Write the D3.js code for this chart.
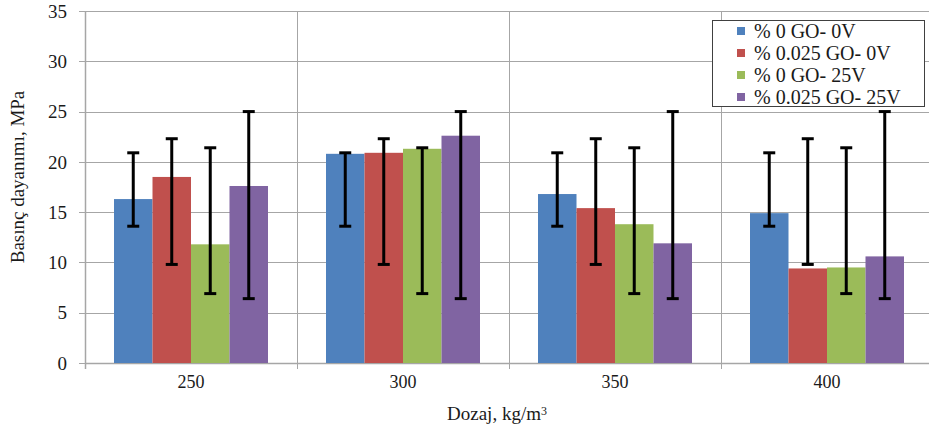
<!DOCTYPE html>
<html>
<head>
<meta charset="utf-8">
<script src="https://cdn.jsdelivr.net/npm/d3@7/dist/d3.min.js"></script>
<style>
  body { margin: 0; background: #fff; }
  svg { display: block; font-family: "Liberation Serif", "Times New Roman", serif; }
</style>
</head>
<body>
<div class="chart-cont"></div>
<script>
var categories = ["250", "300", "350", "400"];
var seriesNames = ["% 0 GO- 0V", "% 0.025 GO- 0V", "% 0 GO- 25V", "% 0.025 GO- 25V"];
var seriesColors = ["#4f81bd", "#c0504d", "#9bbb59", "#8064a2"];

// bar heights, one array per series (same order as categories)
var go0_0V = [16.3, 20.8, 16.8, 14.9];
var go025_0V = [18.5, 20.9, 15.4, 9.4];
var go0_25V = [11.8, 21.3, 13.8, 9.5];
var go025_25V = [17.6, 22.6, 11.9, 10.6];

// error bar ends (they sit at the same level in every group in the original)
var errLow = [13.6, 9.8, 6.9, 6.4];
var errHigh = [20.9, 22.3, 21.4, 25.0];

var yTicks = [0, 5, 10, 15, 20, 25, 30, 35];

var w = 929, h = 437;
var pLeft = 85, pRight = 933, pTop = 11, pBottom = 363;

var values = [go0_0V, go025_0V, go0_25V, go025_25V];
var data = [];
categories.forEach(function(cat, ci) {
    seriesNames.forEach(function(name, si) {
        data.push({cat: cat, series: si, value: values[si][ci], lo: errLow[si], hi: errHigh[si]});
    });
});

var svg = d3.select(".chart-cont").append("svg")
    .attr("width", w)
    .attr("height", h);

var x = d3.scaleBand().domain(categories).range([pLeft, pRight]).paddingInner(0).paddingOuter(0);
var xs = d3.scaleBand().domain(d3.range(seriesNames.length)).range([29, x.bandwidth() - 29]).padding(0);
var y = d3.scaleLinear().domain([0, 35]).range([pBottom, pTop]);

// horizontal gridlines
svg.append("g").selectAll("line")
    .data(yTicks)
    .enter().append("line")
    .attr("x1", pLeft - 6)
    .attr("x2", pRight)
    .attr("y1", function(d) { return Math.round(y(d)) + 0.5; })
    .attr("y2", function(d) { return Math.round(y(d)) + 0.5; })
    .style("stroke", "#a6a6a6")
    .style("stroke-width", "1px");

// vertical gridlines at category boundaries
svg.append("g").selectAll("line")
    .data(categories.slice(1))
    .enter().append("line")
    .attr("x1", function(d) { return Math.round(x(d)) + 0.5; })
    .attr("x2", function(d) { return Math.round(x(d)) + 0.5; })
    .attr("y1", pTop)
    .attr("y2", pBottom + 6)
    .style("stroke", "#a6a6a6")
    .style("stroke-width", "1px");

// axis lines
svg.append("line")
    .attr("x1", pLeft + 0.5).attr("x2", pLeft + 0.5)
    .attr("y1", pTop).attr("y2", pBottom + 6)
    .style("stroke", "#a6a6a6").style("stroke-width", "1.5px");
svg.append("line")
    .attr("x1", pLeft).attr("x2", pRight)
    .attr("y1", pBottom + 0.5).attr("y2", pBottom + 0.5)
    .style("stroke", "#a6a6a6").style("stroke-width", "1.5px");

// y tick labels
svg.append("g").selectAll("text")
    .data(yTicks)
    .enter().append("text")
    .attr("x", pLeft - 18)
    .attr("y", function(d) { return y(d); })
    .attr("dy", "0.35em")
    .attr("text-anchor", "end")
    .style("font-size", "19px")
    .style("fill", "#1a1a1a")
    .text(function(d) { return d; });

// x tick labels
svg.append("g").selectAll("text")
    .data(categories)
    .enter().append("text")
    .attr("x", function(d) { return x(d) + x.bandwidth() / 2; })
    .attr("y", 388)
    .attr("text-anchor", "middle")
    .style("font-size", "18px")
    .style("fill", "#1a1a1a")
    .text(function(d) { return d; });

// axis titles
var xt = svg.append("text")
    .attr("x", 497)
    .attr("y", 420)
    .attr("text-anchor", "middle")
    .style("font-size", "19px")
    .style("fill", "#1a1a1a");
xt.append("tspan").text("Dozaj, kg/m");
xt.append("tspan").attr("dy", "-0.45em").style("font-size", "12px").text("3");

svg.append("text")
    .attr("transform", "translate(24,177)rotate(-90)")
    .attr("text-anchor", "middle")
    .style("font-size", "19px")
    .style("fill", "#1a1a1a")
    .text("Basınç dayanımı, MPa");

// bars
svg.append("g").selectAll("rect")
    .data(data)
    .enter().append("rect")
    .attr("x", function(d) { return x(d.cat) + xs(d.series); })
    .attr("width", xs.bandwidth())
    .attr("y", function(d) { return y(d.value); })
    .attr("height", function(d) { return pBottom - y(d.value); })
    .attr("fill", function(d) { return seriesColors[d.series]; });

// error bars
var err = svg.append("g").selectAll("g")
    .data(data)
    .enter().append("g")
    .attr("transform", function(d) {
        return "translate(" + (x(d.cat) + xs(d.series) + xs.bandwidth() / 2) + ",0)";
    });
err.append("line")
    .attr("y1", function(d) { return y(d.lo); })
    .attr("y2", function(d) { return y(d.hi); })
    .style("stroke", "#000").style("stroke-width", "3px");
err.append("line")
    .attr("x1", -6).attr("x2", 6)
    .attr("y1", function(d) { return y(d.hi); })
    .attr("y2", function(d) { return y(d.hi); })
    .style("stroke", "#000").style("stroke-width", "3px");
err.append("line")
    .attr("x1", -6).attr("x2", 6)
    .attr("y1", function(d) { return y(d.lo); })
    .attr("y2", function(d) { return y(d.lo); })
    .style("stroke", "#000").style("stroke-width", "3px");

// legend
var legend = svg.append("g").attr("transform", "translate(712,20)");
legend.append("rect")
    .attr("x", 0.5).attr("y", 0.5)
    .attr("width", 212).attr("height", 86)
    .attr("fill", "#fff")
    .style("stroke", "#404040").style("stroke-width", "1px");
var items = legend.selectAll(".item")
    .data(seriesNames)
    .enter().append("g")
    .attr("class", "item")
    .attr("transform", function(d, i) { return "translate(0," + (11 + i * 22) + ")"; });
items.append("rect")
    .attr("x", 25).attr("y", -4)
    .attr("width", 8).attr("height", 8)
    .attr("fill", function(d, i) { return seriesColors[i]; });
items.append("text")
    .attr("x", 42)
    .attr("dy", "0.35em")
    .style("font-size", "20px")
    .style("fill", "#1a1a1a")
    .text(function(d) { return d; });
</script>
</body>
</html>
